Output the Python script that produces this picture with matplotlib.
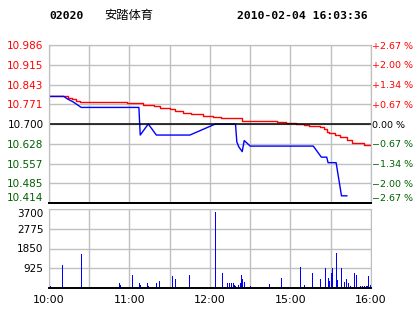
import matplotlib

matplotlib.use("Agg")
import matplotlib.pyplot as plt

plt.rcParams["font.family"] = ["DejaVu Sans"]

# previous close and axis ticks
PREV_CLOSE = 10.700
price_ticks = [10.414, 10.485, 10.557, 10.628, 10.700, 10.771, 10.843, 10.915, 10.986]
pct_labels = ["\u22122.67 %", "\u22122.00 %", "\u22121.34 %", "\u22120.67 %", "0.00 %",
              "+0.67 %", "+1.34 %", "+2.00 %", "+2.67 %"]
vol_ticks = [925, 1850, 2775, 3700]
time_ticks = [0, 60, 120, 180, 240]
time_labels = ["10:00", "11:00", "12:00", "15:00", "16:00"]

# price line (minute index, price)
price_min = [0, 11, 14, 18, 21, 24, 67, 68, 74, 80, 105, 124, 139, 140, 141.5, 144, 145.5, 150,
             197, 203, 207, 208, 214, 218, 222]
price_val = [10.80, 10.80, 10.79, 10.78, 10.77, 10.76, 10.76, 10.66, 10.70, 10.66, 10.66, 10.70,
             10.70, 10.635, 10.617, 10.60, 10.64, 10.62, 10.62, 10.58, 10.58, 10.56, 10.56,
             10.44, 10.44]

# average price line
avg_min = [0, 11, 14, 17, 20, 23, 58, 70, 78, 83, 90, 94, 100, 106, 115, 122, 128, 143.6,
           170, 177, 184, 190, 194, 202, 205, 207, 209, 213, 217, 222, 226, 235, 239]
avg_val = [10.800, 10.800, 10.795, 10.790, 10.785, 10.779, 10.775, 10.770, 10.765, 10.759,
           10.754, 10.747, 10.741, 10.736, 10.730, 10.726, 10.722, 10.711, 10.706, 10.703,
           10.700, 10.696, 10.693, 10.688, 10.681, 10.672, 10.666, 10.661, 10.654, 10.642,
           10.632, 10.625, 10.625]

# volume bars
vol_min = [0, 1, 10, 24, 52, 53, 62, 67, 68, 73, 74, 80, 82, 92, 94, 104, 124, 129, 133, 134,
           136, 137, 138, 139, 141, 142, 143, 144, 145, 150, 164, 173, 187, 190, 196, 202, 206,
           208, 209, 210, 211, 214, 215, 218, 220, 221, 223, 224, 227, 229, 232, 233, 235, 236,
           237, 238, 239]
vol_val = [290, 110, 1080, 1590, 250, 120, 620, 250, 120, 230, 110, 230, 320, 540, 400, 620,
           3540, 700, 250, 220, 220, 220, 150, 110, 150, 220, 620, 430, 290, 110, 200, 480, 1000,
           150, 720, 400, 950, 480, 330, 700, 950, 1640, 380, 950, 290, 430, 250, 110, 700, 600,
           110, 110, 110, 110, 110, 540, 150]

RED = "#ff0000"
GREEN = "#006000"
BLUE = "#0000ff"
GRID = "#c0c0c0"
FS = 7.5

W, H = 414, 314
fig = plt.figure(figsize=(W / 100, H / 100), dpi=100)


def px_axes(left, top, right, bottom):
    return fig.add_axes([left / W, 1 - bottom / H, (right - left) / W, (bottom - top) / H])


def colour_for(t):
    if t > PREV_CLOSE:
        return RED
    if t < PREV_CLOSE:
        return GREEN
    return "black"


ax = px_axes(49, 45, 371, 203)
axv = px_axes(49, 209, 371, 288)

# ---- price panel
ax.plot(avg_min, avg_val, color=RED, lw=1, drawstyle="steps-post")
ax.plot(price_min, price_val, color=BLUE, lw=1)
ax.axhline(PREV_CLOSE, color="black", lw=1.1)
ax.set_xlim(0, 240)
ax.set_ylim(price_ticks[0], price_ticks[-1])
ax.set_yticks(price_ticks)
ax.set_yticklabels([f"{t:.3f}" for t in price_ticks], fontsize=FS)
for lab, t in zip(ax.get_yticklabels(), price_ticks):
    lab.set_color(colour_for(t))
ax.get_yticklabels()[0].set_va("bottom")
ax.set_xticks(range(0, 241, 30))
ax.set_xticklabels([])
ax.tick_params(length=0, pad=4)
ax.grid(True, color=GRID, lw=1)

axr = ax.twinx()
axr.set_ylim(price_ticks[0], price_ticks[-1])
axr.set_yticks(price_ticks)
axr.set_yticklabels(pct_labels, fontsize=6.8)
for lab, t in zip(axr.get_yticklabels(), price_ticks):
    lab.set_color(colour_for(t))
axr.get_yticklabels()[0].set_va("bottom")
axr.tick_params(length=0, pad=1)

for a in (ax, axr):
    for s in ("left", "top", "right"):
        a.spines[s].set_color(GRID)
    a.spines["bottom"].set_color("black")
    a.spines["bottom"].set_linewidth(1.4)

# ---- volume panel
axv.vlines(vol_min, 0, vol_val, color=BLUE, lw=0.72, antialiased=False)
axv.set_xlim(0, 240)
axv.set_ylim(0, 3700)
axv.set_yticks(vol_ticks)
axv.set_yticklabels([str(v) for v in vol_ticks], fontsize=FS)
axv.get_yticklabels()[-1].set_va("top")
axv.set_xticks(range(0, 241, 30))
axv.set_xticklabels(["10:00", "", "11:00", "", "12:00", "", "15:00", "", "16:00"], fontsize=FS + 0.5)
axv.tick_params(length=0, pad=4)
axv.tick_params(axis="x", pad=5)
axv.grid(True, color=GRID, lw=1)
axv.set_axisbelow(True)
for s in ("left", "top", "right"):
    axv.spines[s].set_color(GRID)
axv.spines["bottom"].set_color("black")
axv.spines["bottom"].set_linewidth(1.4)

# ---- header
fig.text(49 / W, 1 - 16 / H, "02020", family="DejaVu Sans Mono", weight="bold",
         fontsize=8.2, va="center")
fig.text(104 / W, 1 - 16 / H, "安踏体育", family=["Noto Sans CJK SC", "DejaVu Sans"],
         fontsize=8.8, va="center")
fig.text(237 / W, 1 - 16 / H, "2010-02-04 16:03:36", family="DejaVu Sans Mono", weight="bold",
         fontsize=8.2, va="center")

fig.savefig("out.png", dpi=100)
